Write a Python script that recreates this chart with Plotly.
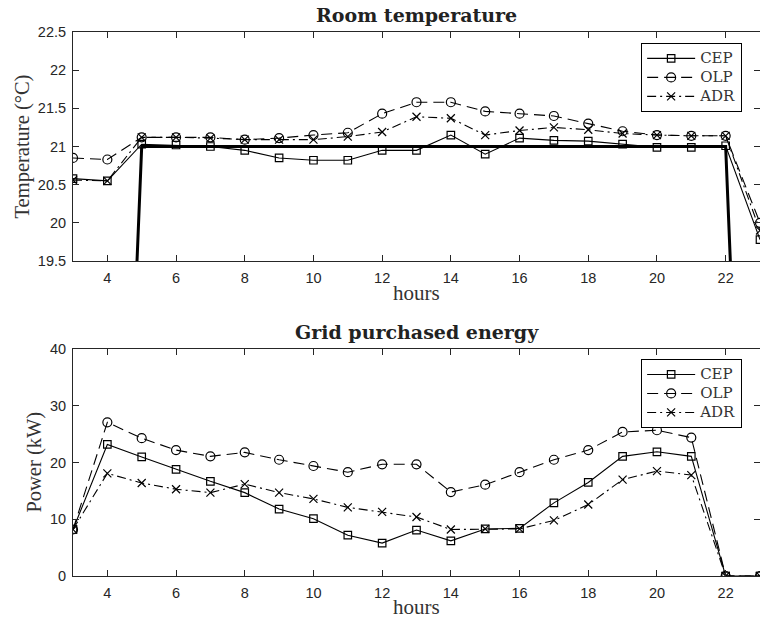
import plotly.graph_objects as go

hours = list(range(3, 24))

# Room temperature (°C)
temp_cep = [20.58, 20.55, 21.03, 21.02, 21.00, 20.95, 20.85, 20.82, 20.82, 20.95, 20.95,
            21.15, 20.90, 21.11, 21.08, 21.07, 21.03, 20.99, 20.99, 21.01, 19.78]
temp_olp = [20.85, 20.83, 21.12, 21.12, 21.12, 21.09, 21.11, 21.15, 21.18, 21.43, 21.58,
            21.58, 21.46, 21.43, 21.40, 21.30, 21.20, 21.15, 21.14, 21.14, 20.00]
temp_adr = [20.56, 20.55, 21.12, 21.12, 21.11, 21.09, 21.09, 21.09, 21.13, 21.19, 21.39,
            21.37, 21.15, 21.21, 21.25, 21.22, 21.17, 21.15, 21.14, 21.14, 19.90]
temp_set = [10, 10, 21, 21, 21, 21, 21, 21, 21, 21, 21, 21, 21, 21, 21, 21, 21, 21, 21, 21, 10]

# Grid purchased energy (kW)
pow_cep = [8.2, 23.2, 21.0, 18.8, 16.7, 14.7, 11.8, 10.1, 7.2, 5.8, 8.1,
           6.2, 8.3, 8.4, 12.9, 16.5, 21.1, 21.9, 21.1, 0, 0]
pow_olp = [8.2, 27.1, 24.3, 22.2, 21.1, 21.8, 20.5, 19.4, 18.3, 19.7, 19.7,
           14.8, 16.1, 18.3, 20.5, 22.2, 25.4, 25.7, 24.4, 0, 0]
pow_adr = [8.2, 18.1, 16.4, 15.3, 14.7, 16.2, 14.7, 13.6, 12.1, 11.3, 10.4,
           8.2, 8.3, 8.3, 9.8, 12.6, 17.0, 18.5, 17.8, 0, 0]

x_ticks = list(range(4, 23, 2))
temp_ticks = [19.5, 20, 20.5, 21, 21.5, 22, 22.5]
pow_ticks = [0, 10, 20, 30, 40]

names = ["CEP", "OLP", "ADR"]
symbols = ["square-open", "circle-open", "x-thin-open"]
msizes = [7.5, 9, 8]
dashes = ["solid", "11px,6px", "9px,4px,2px,4px"]

SERIF = "Liberation Serif"
BSERIF = "DejaVu Serif"
SANS = "Liberation Sans"
INK = "#262626"
TXT = "#333333"

fig = go.Figure()

def legend_text(n):
    return "<span style='font-size:15px'>%s</span>" % n

fig.add_trace(go.Scatter(x=hours, y=temp_set, mode="lines", showlegend=False,
                         line=dict(color="black", width=3), xaxis="x", yaxis="y"))
for n, s, ms, d, vals in zip(names, symbols, msizes, dashes, [temp_cep, temp_olp, temp_adr]):
    fig.add_trace(go.Scatter(
        x=hours, y=vals, name=legend_text(n), mode="lines+markers", legend="legend",
        line=dict(color="black", width=1.1, dash=d),
        marker=dict(symbol=s, size=ms, color="black", line=dict(color="black", width=1.2)),
        xaxis="x", yaxis="y"))
for n, s, ms, d, vals in zip(names, symbols, msizes, dashes, [pow_cep, pow_olp, pow_adr]):
    fig.add_trace(go.Scatter(
        x=hours, y=vals, name=legend_text(n), mode="lines+markers", legend="legend2",
        line=dict(color="black", width=1.1, dash=d),
        marker=dict(symbol=s, size=ms, color="black", line=dict(color="black", width=1.2)),
        xaxis="x2", yaxis="y2"))

axis_common = dict(showgrid=False, zeroline=False, showline=True, linecolor=INK, linewidth=1,
                   ticks="inside", ticklen=6, tickcolor=INK, mirror="ticks", automargin=False,
                   tickfont=dict(family=SANS, size=14.5, color=INK))
xaxis_common = dict(axis_common, ticklabelstandoff=4)
yaxis_common = dict(axis_common, ticklabelstandoff=3)

leg_common = dict(xanchor="right", yanchor="top", bgcolor="white", bordercolor="black",
                  borderwidth=1, font=dict(family=BSERIF, size=12, color=TXT),
                  tracegroupgap=0, itemwidth=48)

TOP = [0.579, 1.0]
BOT = [0.0, 0.417]

def label(text, x, y, size, angle=0, bold=False):
    return dict(text=("<b>%s</b>" % text) if bold else text, xref="paper", yref="paper",
                x=x, y=y, xanchor="center", yanchor="middle", textangle=angle,
                showarrow=False,
                font=dict(family=BSERIF if bold else SERIF, size=size,
                          color="#222222" if bold else TXT))

fig.update_layout(
    width=760, height=618,
    margin=dict(l=73, r=0, t=32, b=42, autoexpand=False),
    paper_bgcolor="white", plot_bgcolor="white",
    xaxis=dict(domain=[0, 1], range=[3, 23], tickvals=x_ticks, anchor="y", **xaxis_common),
    yaxis=dict(domain=TOP, range=[19.5, 22.5], tickvals=temp_ticks, anchor="x", **yaxis_common),
    xaxis2=dict(domain=[0, 1], range=[3, 23], tickvals=x_ticks, anchor="y2", **xaxis_common),
    yaxis2=dict(domain=BOT, range=[0, 40], tickvals=pow_ticks, anchor="x2", **yaxis_common),
    legend=dict(x=0.974, y=0.980, **leg_common),
    legend2=dict(x=0.974, y=0.399, **leg_common),
    annotations=[
        label("Room temperature", 0.5, 1.03125, 19, bold=True),
        label("Grid purchased energy", 0.5, 0.4485, 19, bold=True),
        label("hours", 0.5, 0.520, 21),
        label("hours", 0.5, -0.0570, 21),
        label("Temperature (°C)", -0.0728, (TOP[0] + TOP[1]) / 2, 20.5, angle=-90),
        label("Power (kW)", -0.0553, (BOT[0] + BOT[1]) / 2, 20.5, angle=-90),
    ],
)

fig.write_html(
    "out.html",
    config={"displayModeBar": False},
    post_script="document.body.style.margin='0';document.body.style.overflow='hidden';",
)
